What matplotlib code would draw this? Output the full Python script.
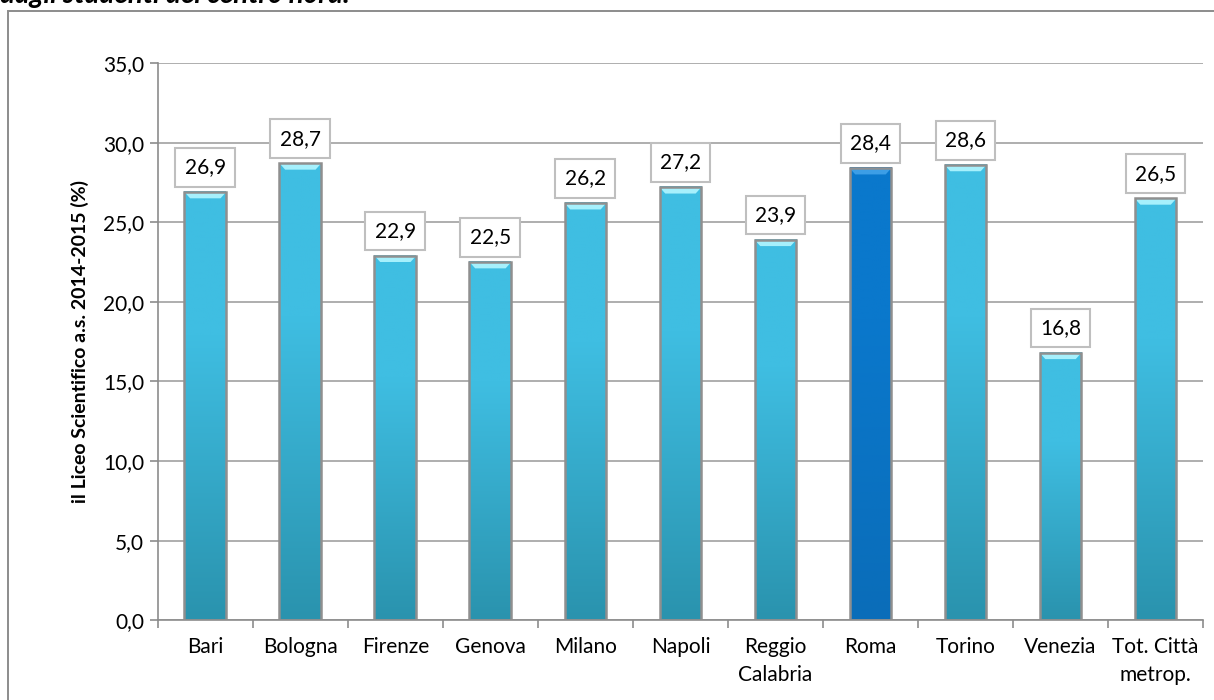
import numpy as np
import matplotlib.pyplot as plt
from matplotlib.patches import Rectangle, Polygon
from matplotlib.colors import to_rgb
from matplotlib.ticker import FuncFormatter

# Data
citta = ['Bari', 'Bologna', 'Firenze', 'Genova', 'Milano', 'Napoli',
         'Reggio\nCalabria', 'Roma', 'Torino', 'Venezia', 'Tot. Città\nmetrop.']
valori = [26.9, 28.7, 22.9, 22.5, 26.2, 27.2, 23.9, 28.4, 28.6, 16.8, 26.5]
evidenza = 'Roma'
titolo = 'dagli studenti del centro nord.'
ylabel = 'il Liceo Scientifico a.s. 2014-2015 (%)'

plt.rcParams['font.family'] = ['Lato', 'DejaVu Sans']

fig = plt.figure(figsize=(12.14, 7.0), dpi=100)
ax = fig.add_axes([0.130, 0.114, 0.861, 0.796])

# outer frame and title (cut at the top edge, as in the source page)
fig.patches.append(Rectangle((8 / 1214, -0.01), 1.02, 1 - 11 / 700 + 0.01,
                             transform=fig.transFigure, fill=False,
                             edgecolor='#8c8c8c', linewidth=1.4))
fig.text(0.0, 1 - 3 / 700, titolo, fontsize=20, fontweight='bold',
         fontstyle='italic', ha='left', va='baseline')


def gradient_bar(ax, x, h, w, c_top, c_mid, c_bot):
    # vertical shading plus bevel cap
    c_mid, c_bot = np.array(to_rgb(c_mid)), np.array(to_rgb(c_bot))
    g = np.linspace(0, 1, 100)[:, None, None]
    img = c_bot + (c_mid - c_bot) * np.minimum(g * 1.5, 1)
    ax.imshow(img, extent=(x - w / 2, x + w / 2, 0, h), origin='lower',
              aspect='auto', zorder=2, interpolation='bilinear')
    cap = 0.4
    ax.add_patch(Polygon([(x - w / 2, h), (x + w / 2, h),
                          (x + w / 2 - 0.06, h - cap), (x - w / 2 + 0.06, h - cap)],
                         closed=True, facecolor=c_top, edgecolor='none', zorder=3))
    ax.add_patch(Rectangle((x - w / 2, 0), w, h, fill=False,
                           edgecolor='#8f8f8f', linewidth=1.8, zorder=3))


xs = np.arange(len(citta))
w = 0.44
for x, v, c in zip(xs, valori, citta):
    if c == evidenza:
        gradient_bar(ax, x, v, w, '#3c9ee6', '#0a78cc', '#0a6db9')
    else:
        gradient_bar(ax, x, v, w, '#a6f0fc', '#3fbee2', '#2a93ae')
    ax.text(x, v + 1.55, f'{v:.1f}'.replace('.', ','), ha='center', va='center',
            fontsize=15, zorder=5,
            bbox=dict(boxstyle='square,pad=0.45', facecolor='white',
                      edgecolor='#bfbfbf', linewidth=1.5))

ax.set_xlim(-0.5, len(citta) - 0.5)
ax.set_ylim(0, 35)
ax.set_yticks(np.arange(0, 35.1, 5))
ax.yaxis.set_major_formatter(FuncFormatter(lambda v, p: f'{v:.1f}'.replace('.', ',')))
ax.grid(axis='y', color='#999999', linewidth=1.1, zorder=0)
ax.set_axisbelow(True)

ax.set_xticks(xs)
ax.set_xticklabels(citta, fontsize=15, linespacing=1.5)
ax.set_xticks(np.arange(-0.5, len(citta), 1), minor=True)
ax.tick_params(axis='x', which='major', length=0, pad=12)
ax.tick_params(axis='x', which='minor', length=6, color='#8c8c8c', width=1.2, direction='out')
ax.tick_params(axis='y', length=6, color='#8c8c8c', width=1.2, labelsize=15, pad=4)

for s in ['top', 'right']:
    ax.spines[s].set_visible(False)
for s in ['left', 'bottom']:
    ax.spines[s].set_color('#8c8c8c')
    ax.spines[s].set_linewidth(1.2)

ax.set_ylabel(ylabel, fontsize=14, fontweight='bold', labelpad=10)

fig.savefig('out.png', dpi=100)
